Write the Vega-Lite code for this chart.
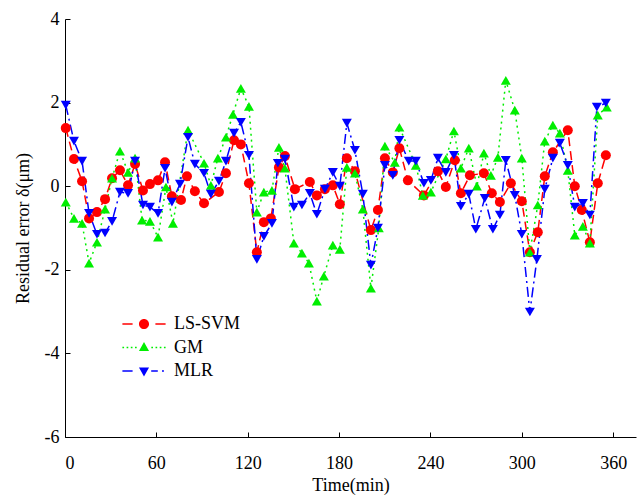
{
"$schema":"https://vega.github.io/schema/vega-lite/v6.json",
"width":571,"height":418,
"autosize":{"type":"none"},
"padding":{"left":65,"top":19,"right":3,"bottom":62},
"background":"white",
"config":{"view":{"stroke":null},
"axis":{"domainColor":"black","domainWidth":1,"tickColor":"black","tickSize":-5,"labelFont":"Liberation Serif","labelFontSize":18,"labelColor":"black","titleFont":"Liberation Serif","titleFontSize":18,"titleFontWeight":"normal","titleColor":"black","grid":false},
"legend":{"orient":"none","legendX":66,"legendY":292,"symbolSize":576,"labelOffset":17,"labelFont":"Liberation Serif","labelFontSize":18,"labelColor":"black","rowPadding":1.5,"padding":0}},
"data":{"values":[
{"m":"LS-SVM","t":0.5,"e":1.39},{"m":"LS-SVM","t":5.9,"e":0.65},{"m":"LS-SVM","t":11.2,"e":0.12},{"m":"LS-SVM","t":15.8,"e":-0.77},{"m":"LS-SVM","t":21.0,"e":-0.62},{"m":"LS-SVM","t":26.3,"e":-0.31},{"m":"LS-SVM","t":30.9,"e":0.19},{"m":"LS-SVM","t":36.1,"e":0.38},{"m":"LS-SVM","t":41.4,"e":0.02},{"m":"LS-SVM","t":46.0,"e":0.53},{"m":"LS-SVM","t":51.2,"e":-0.10},{"m":"LS-SVM","t":55.8,"e":0.05},{"m":"LS-SVM","t":61.1,"e":0.14},{"m":"LS-SVM","t":65.7,"e":0.57},{"m":"LS-SVM","t":70.2,"e":-0.24},{"m":"LS-SVM","t":76.2,"e":-0.33},{"m":"LS-SVM","t":80.1,"e":0.24},{"m":"LS-SVM","t":85.3,"e":-0.12},{"m":"LS-SVM","t":91.3,"e":-0.41},{"m":"LS-SVM","t":101.1,"e":-0.14},{"m":"LS-SVM","t":105.7,"e":0.31},{"m":"LS-SVM","t":111.0,"e":1.10},{"m":"LS-SVM","t":115.5,"e":1.00},{"m":"LS-SVM","t":120.8,"e":0.07},{"m":"LS-SVM","t":126.0,"e":-1.58},{"m":"LS-SVM","t":130.6,"e":-0.86},{"m":"LS-SVM","t":135.2,"e":-0.77},{"m":"LS-SVM","t":140.5,"e":0.45},{"m":"LS-SVM","t":144.4,"e":0.72},{"m":"LS-SVM","t":151.0,"e":-0.07},{"m":"LS-SVM","t":160.8,"e":0.10},{"m":"LS-SVM","t":165.4,"e":-0.22},{"m":"LS-SVM","t":170.7,"e":-0.07},{"m":"LS-SVM","t":175.9,"e":0.02},{"m":"LS-SVM","t":180.5,"e":-0.43},{"m":"LS-SVM","t":185.1,"e":0.67},{"m":"LS-SVM","t":190.4,"e":0.36},{"m":"LS-SVM","t":200.9,"e":-1.05},{"m":"LS-SVM","t":205.5,"e":-0.57},{"m":"LS-SVM","t":210.1,"e":0.67},{"m":"LS-SVM","t":215.3,"e":0.33},{"m":"LS-SVM","t":219.6,"e":0.91},{"m":"LS-SVM","t":225.2,"e":0.14},{"m":"LS-SVM","t":235.7,"e":-0.22},{"m":"LS-SVM","t":244.9,"e":0.36},{"m":"LS-SVM","t":250.1,"e":-0.02},{"m":"LS-SVM","t":256.0,"e":0.62},{"m":"LS-SVM","t":260.0,"e":-0.17},{"m":"LS-SVM","t":265.9,"e":0.26},{"m":"LS-SVM","t":275.1,"e":0.31},{"m":"LS-SVM","t":280.3,"e":-0.17},{"m":"LS-SVM","t":285.6,"e":-0.38},{"m":"LS-SVM","t":292.8,"e":0.07},{"m":"LS-SVM","t":300.0,"e":-0.36},{"m":"LS-SVM","t":305.3,"e":-1.58},{"m":"LS-SVM","t":310.5,"e":-1.10},{"m":"LS-SVM","t":315.1,"e":0.24},{"m":"LS-SVM","t":320.4,"e":0.81},{"m":"LS-SVM","t":330.2,"e":1.34},{"m":"LS-SVM","t":334.8,"e":0.0},{"m":"LS-SVM","t":339.4,"e":-0.57},{"m":"LS-SVM","t":344.7,"e":-1.34},{"m":"LS-SVM","t":349.9,"e":0.07},{"m":"LS-SVM","t":355.2,"e":0.74},
{"m":"GM","t":0.5,"e":-0.38},{"m":"GM","t":5.9,"e":-0.77},{"m":"GM","t":11.2,"e":-0.89},{"m":"GM","t":15.8,"e":-1.84},{"m":"GM","t":21.0,"e":-1.34},{"m":"GM","t":26.3,"e":-0.55},{"m":"GM","t":30.9,"e":0.19},{"m":"GM","t":36.1,"e":0.84},{"m":"GM","t":41.4,"e":0.33},{"m":"GM","t":46.0,"e":0.67},{"m":"GM","t":50.6,"e":-0.81},{"m":"GM","t":55.8,"e":-0.84},{"m":"GM","t":61.1,"e":-1.22},{"m":"GM","t":66.3,"e":-0.02},{"m":"GM","t":70.9,"e":-0.89},{"m":"GM","t":80.8,"e":1.34},{"m":"GM","t":91.3,"e":0.55},{"m":"GM","t":95.8,"e":0.02},{"m":"GM","t":100.4,"e":0.67},{"m":"GM","t":105.7,"e":1.17},{"m":"GM","t":110.3,"e":1.72},{"m":"GM","t":115.5,"e":2.34},{"m":"GM","t":120.8,"e":1.91},{"m":"GM","t":126.0,"e":-0.62},{"m":"GM","t":130.6,"e":-0.14},{"m":"GM","t":135.9,"e":-0.10},{"m":"GM","t":140.5,"e":0.93},{"m":"GM","t":144.4,"e":0.43},{"m":"GM","t":150.3,"e":-1.36},{"m":"GM","t":155.6,"e":-1.60},{"m":"GM","t":160.2,"e":-1.84},{"m":"GM","t":165.4,"e":-2.75},{"m":"GM","t":170.0,"e":-2.15},{"m":"GM","t":175.9,"e":-1.41},{"m":"GM","t":180.5,"e":-1.51},{"m":"GM","t":185.1,"e":0.45},{"m":"GM","t":190.4,"e":0.31},{"m":"GM","t":195.6,"e":-0.55},{"m":"GM","t":200.9,"e":-2.44},{"m":"GM","t":206.1,"e":-1.00},{"m":"GM","t":210.1,"e":0.96},{"m":"GM","t":216.6,"e":0.57},{"m":"GM","t":219.6,"e":1.41},{"m":"GM","t":230.4,"e":0.50},{"m":"GM","t":235.0,"e":-0.22},{"m":"GM","t":240.3,"e":-0.14},{"m":"GM","t":250.1,"e":0.65},{"m":"GM","t":255.4,"e":1.32},{"m":"GM","t":260.0,"e":0.43},{"m":"GM","t":265.2,"e":0.91},{"m":"GM","t":270.5,"e":0.0},{"m":"GM","t":275.1,"e":0.79},{"m":"GM","t":279.7,"e":0.26},{"m":"GM","t":284.3,"e":0.69},{"m":"GM","t":289.5,"e":2.53},{"m":"GM","t":295.4,"e":1.82},{"m":"GM","t":300.0,"e":0.67},{"m":"GM","t":305.3,"e":-1.58},{"m":"GM","t":310.5,"e":-0.45},{"m":"GM","t":315.1,"e":1.08},{"m":"GM","t":320.4,"e":1.46},{"m":"GM","t":325.0,"e":1.27},{"m":"GM","t":330.2,"e":0.38},{"m":"GM","t":334.8,"e":-1.17},{"m":"GM","t":340.1,"e":-0.96},{"m":"GM","t":344.7,"e":-1.36},{"m":"GM","t":349.9,"e":1.70},{"m":"GM","t":355.8,"e":1.89},
{"m":"MLR","t":0.5,"e":1.94},{"m":"MLR","t":5.9,"e":1.08},{"m":"MLR","t":11.2,"e":0.60},{"m":"MLR","t":15.8,"e":-0.65},{"m":"MLR","t":21.0,"e":-1.15},{"m":"MLR","t":26.3,"e":-1.12},{"m":"MLR","t":30.9,"e":-0.84},{"m":"MLR","t":36.1,"e":-0.14},{"m":"MLR","t":41.4,"e":-0.17},{"m":"MLR","t":46.0,"e":0.60},{"m":"MLR","t":51.2,"e":-0.45},{"m":"MLR","t":55.8,"e":-0.50},{"m":"MLR","t":61.1,"e":-0.65},{"m":"MLR","t":65.7,"e":0.43},{"m":"MLR","t":70.2,"e":-0.38},{"m":"MLR","t":75.5,"e":0.05},{"m":"MLR","t":80.8,"e":1.17},{"m":"MLR","t":85.3,"e":0.53},{"m":"MLR","t":91.3,"e":0.31},{"m":"MLR","t":95.8,"e":-0.19},{"m":"MLR","t":101.1,"e":0.12},{"m":"MLR","t":105.7,"e":0.60},{"m":"MLR","t":111.0,"e":1.27},{"m":"MLR","t":115.5,"e":1.53},{"m":"MLR","t":120.8,"e":0.74},{"m":"MLR","t":126.0,"e":-1.75},{"m":"MLR","t":130.6,"e":-1.20},{"m":"MLR","t":135.9,"e":-0.89},{"m":"MLR","t":139.8,"e":0.55},{"m":"MLR","t":144.4,"e":0.65},{"m":"MLR","t":150.3,"e":-0.50},{"m":"MLR","t":155.6,"e":-0.45},{"m":"MLR","t":160.8,"e":-0.17},{"m":"MLR","t":165.4,"e":-0.67},{"m":"MLR","t":170.7,"e":-0.07},{"m":"MLR","t":175.9,"e":0.33},{"m":"MLR","t":180.5,"e":0.0},{"m":"MLR","t":185.1,"e":1.51},{"m":"MLR","t":190.4,"e":0.86},{"m":"MLR","t":195.6,"e":-0.19},{"m":"MLR","t":200.9,"e":-1.89},{"m":"MLR","t":205.5,"e":-1.00},{"m":"MLR","t":210.1,"e":0.50},{"m":"MLR","t":215.3,"e":0.26},{"m":"MLR","t":219.6,"e":1.10},{"m":"MLR","t":225.8,"e":0.60},{"m":"MLR","t":230.4,"e":0.60},{"m":"MLR","t":235.7,"e":0.07},{"m":"MLR","t":240.3,"e":0.14},{"m":"MLR","t":244.9,"e":0.67},{"m":"MLR","t":250.1,"e":0.33},{"m":"MLR","t":255.4,"e":0.74},{"m":"MLR","t":260.0,"e":-0.48},{"m":"MLR","t":265.2,"e":-0.19},{"m":"MLR","t":269.8,"e":-1.03},{"m":"MLR","t":275.7,"e":-0.29},{"m":"MLR","t":281.0,"e":-1.03},{"m":"MLR","t":285.6,"e":-0.69},{"m":"MLR","t":289.5,"e":0.62},{"m":"MLR","t":295.4,"e":-0.22},{"m":"MLR","t":300.0,"e":-1.15},{"m":"MLR","t":305.3,"e":-3.01},{"m":"MLR","t":309.9,"e":-1.75},{"m":"MLR","t":315.1,"e":-0.07},{"m":"MLR","t":320.4,"e":0.67},{"m":"MLR","t":325.0,"e":1.03},{"m":"MLR","t":330.2,"e":0.50},{"m":"MLR","t":334.8,"e":-0.50},{"m":"MLR","t":340.1,"e":-0.41},{"m":"MLR","t":344.7,"e":-0.69},{"m":"MLR","t":349.3,"e":1.89},{"m":"MLR","t":355.2,"e":1.99}
]},
"encoding":{
"x":{"field":"t","type":"quantitative","scale":{"domain":[0,375],"nice":false},"axis":{"values":[0,60,120,180,240,300,360],"title":"Time(min)","labelPadding":22,"titlePadding":4}},
"y":{"field":"e","type":"quantitative","scale":{"domain":[-6,4],"nice":false},"axis":{"values":[-6,-4,-2,0,2,4],"title":"Residual error δ(μm)","labelPadding":11,"titlePadding":12,"labelExpr":"datum.value < 0 ? '-' + abs(datum.value) : '' + datum.value"}}
},
"resolve":{"scale":{"shape":"independent","color":"independent"},"legend":{"shape":"independent","color":"independent"}},
"layer":[
{"mark":{"type":"line","strokeWidth":1.5},
 "encoding":{
  "stroke":{"field":"m","type":"nominal","scale":{"domain":["LS-SVM","GM","MLR"],"range":["#ff0000","#00ee00","#0000ff"]},"legend":null},
  "strokeDash":{"field":"m","type":"nominal","scale":{"domain":["LS-SVM","GM","MLR"],"range":[[9,5],[2,4],[10,4,2,4]]},"legend":null}}},
{"mark":{"type":"point","filled":true,"opacity":1,"size":100},
 "encoding":{
  "shape":{"field":"m","type":"nominal","scale":{"domain":["LS-SVM","GM","MLR"],"range":["circle","triangle-up","triangle-down"]},"legend":null},
  "color":{"field":"m","type":"nominal","scale":{"domain":["LS-SVM","GM","MLR"],"range":["#ff0000","#00ee00","#0000ff"]},"legend":null}
 }},
{"transform":[{"filter":"false"}],
 "mark":{"type":"point","filled":true,"opacity":1},
 "encoding":{
  "shape":{"field":"m","type":"nominal","title":null,"scale":{"domain":["LS-SVM","GM","MLR"],"range":["M-1.8,-0.07H-0.95V0.07H-1.8Z M0.95,-0.07H1.8V0.07H0.95Z M-0.42,0A0.42,0.42,0,1,0,0.42,0A0.42,0.42,0,1,0,-0.42,0Z","M-1.8,-0.07H-1.66V0.07H-1.8Z M-1.45,-0.07H-1.31V0.07H-1.45Z M-1.1,-0.07H-0.96V0.07H-1.1Z M-0.75,-0.07H-0.61V0.07H-0.75Z M0.61,-0.07H0.75V0.07H0.61Z M0.96,-0.07H1.1V0.07H0.96Z M1.31,-0.07H1.45V0.07H1.31Z M1.66,-0.07H1.8V0.07H1.66Z M0,-0.45L0.42,0.3L-0.42,0.3Z","M-1.8,-0.07H-0.95V0.07H-1.8Z M0.6,-0.07H1.15V0.07H0.6Z M1.5,-0.07H1.66V0.07H1.5Z M-0.42,-0.3L0.42,-0.3L0,0.45Z"]}},
  "color":{"field":"m","type":"nominal","title":null,"scale":{"domain":["LS-SVM","GM","MLR"],"range":["#ff0000","#00ee00","#0000ff"]}}
 }}
]
}
